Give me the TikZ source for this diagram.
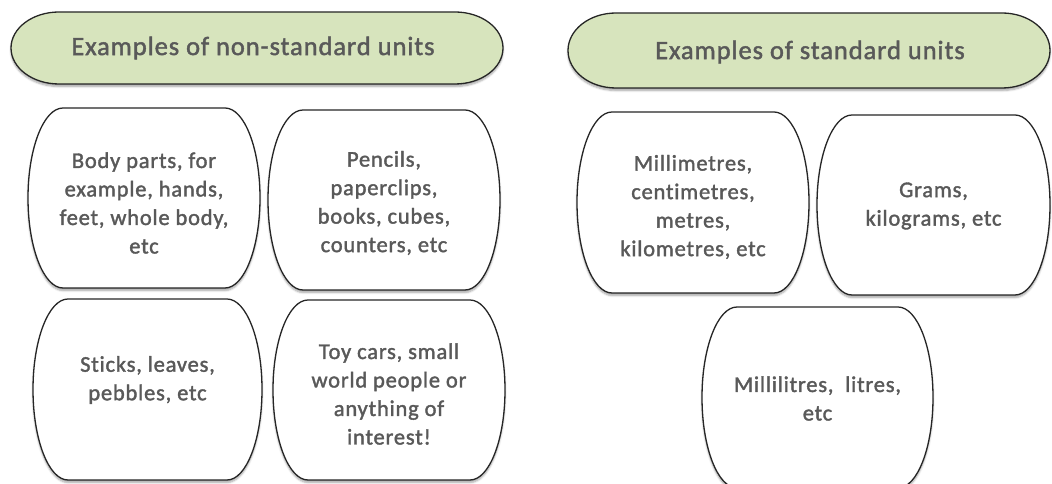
\documentclass[tikz,border=0pt]{standalone}
\usepackage{fontspec}
\setmainfont{Carlito}
\newfontfamily\carlitopieno{Carlito}[FakeBold=1.6, LetterSpace=3.5, Ligatures=NoCommon]
\usetikzlibrary{shadows.blur}

\definecolor{verdetitolo}{HTML}{D7E4BD}
\definecolor{grigiotesto}{HTML}{595959}

\tikzset{
    bordo/.style={draw=black!85, line width=1.3pt,
        blur shadow={shadow xshift=0pt, shadow yshift=-2.5pt,
                     shadow blur steps=6, shadow opacity=35}},
    titolo/.style={bordo, fill=verdetitolo},
    scheda/.style={bordo, fill=white},
    testo/.style={text=grigiotesto, align=center,
                  font=\carlitopieno\fontsize{22.5}{28.5}\selectfont},
    testotitolo/.style={text=grigiotesto, font=\carlitopieno\fontsize{26.5}{30}\selectfont}
}

\begin{document}
\begin{tikzpicture}[x=1pt, y=1pt]

    % Comando \forma: stile, centro x, centro y, larghezza, altezza, semiasse dei lati
    \newcommand{\forma}[6]{
        \draw[#1] ({#2-#4/2+#6}, {#3+#5/2}) -- ({#2+#4/2-#6}, {#3+#5/2})
            arc[start angle=90, end angle=-90, x radius=#6, y radius=#5/2]
            -- ({#2-#4/2+#6}, {#3-#5/2})
            arc[start angle=270, end angle=90, x radius=#6, y radius=#5/2] -- cycle;
    }

    \useasboundingbox (0, 0) rectangle (1052, 484);

    % -- Parte Sinistra: unita' non standard --
    \forma{titolo}{257}{436}{492}{72}{48}
    \node[testotitolo] (nonstandard) at (253, 436) {Examples of non-standard units};

    \forma{scheda}{144}{286}{232}{180}{35}
    \node[testo] (corpo) at (144, 281) {Body parts, for\\example, hands,\\feet, whole body,\\etc};

    \forma{scheda}{384}{284}{232}{180}{35}
    \node[testo] (oggetti) at (384, 281) {Pencils,\\paperclips,\\books, cubes,\\counters, etc};

    \forma{scheda}{147.5}{94.5}{229}{181}{35}
    \node[testo] (natura) at (147.5, 104) {Sticks, leaves,\\pebbles, etc};

    \forma{scheda}{389}{94}{232}{180}{35}
    \node[testo] (giochi) at (389, 90) {Toy cars, small\\world people or\\anything of\\interest!};

    % -- Parte Destra: unita' standard --
    \forma{titolo}{809}{433.5}{482}{75}{48}
    \node[testotitolo] (standard) at (810, 432) {Examples of standard units};

    \forma{scheda}{693}{281.5}{232}{181}{35}
    \node[testo] (lunghezze) at (693, 277) {Millimetres,\\centimetres,\\metres,\\kilometres, etc};

    \forma{scheda}{933.5}{279}{233}{180}{35}
    \node[testo] (masse) at (933.5, 278) {Grams,\\kilograms, etc};

    \forma{scheda}{817.5}{86.5}{231}{181}{35}
    \node[testo] (capacita) at (817.5, 85.5) {Millilitres,~ litres,\\etc};

\end{tikzpicture}
\end{document}
